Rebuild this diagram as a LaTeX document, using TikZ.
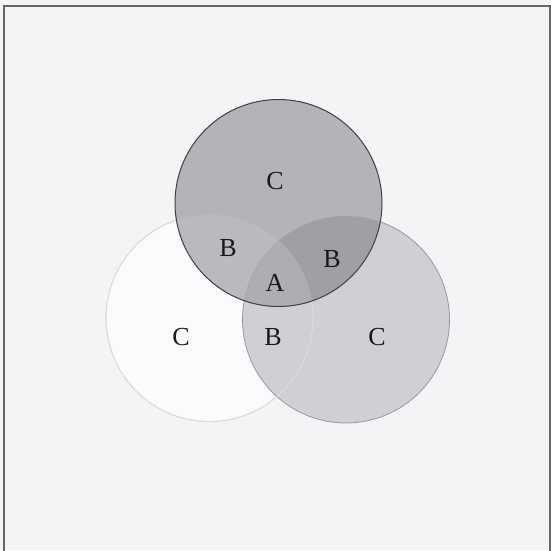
\documentclass[tikz,border=0pt]{standalone}
\usepackage{fontspec}
\setmainfont{Liberation Serif}
\usepackage{xcolor}
\usepackage{tikz}

\definecolor{paper}{HTML}{F4F4F6}
\definecolor{topfill}{HTML}{B4B4B8}
\definecolor{topleft}{HTML}{B9BABF}
\definecolor{topright}{HTML}{A0A0A4}
\definecolor{allthree}{HTML}{ADADB2}
\definecolor{rightfill}{HTML}{CFCFD5}
\definecolor{leftfill}{HTML}{FBFBFD}

\tikzset{
  ring/.style={circle,minimum size=207pt,inner sep=0pt},
  lbl/.style={font=\fontsize{26}{30}\selectfont,text=black!90,inner sep=0pt}
}

\begin{document}
\begin{tikzpicture}[x=1pt,y=-1pt]
  \def\rad{103.5}
  \useasboundingbox (0,0) rectangle (551,550);
  \fill[paper] (0,0) rectangle (551,550);
  \draw[black!60,line width=1.2pt] (4,552) -- (4,6) -- (550,6) -- (550,552);

  % the three sets
  \node[ring] (left) at (209.5,318) {};
  \node[ring] (right) at (346,319.5) {};
  \node[ring] (top) at (278.5,203) {};

  \fill[leftfill] (left.center) circle (\rad);
  \draw[black!22,line width=0.8pt] (left.center) circle (\rad);
  \fill[rightfill] (right.center) circle (\rad);
  \draw[black!40,line width=0.8pt] (right.center) circle (\rad);
  \draw[black!12,line width=0.6pt] (left.center) circle (\rad);
  \fill[topfill] (top.center) circle (\rad);
  \begin{scope}
    \clip (top.center) circle (\rad);
    \fill[topleft] (left.center) circle (\rad);
    \fill[topright] (right.center) circle (\rad);
    \clip (right.center) circle (\rad);
    \fill[allthree] (left.center) circle (\rad);
    \draw[black!30,line width=0.6pt] (left.center) circle (\rad);
    \draw[black!35,line width=0.6pt] (right.center) circle (\rad);
  \end{scope}
  \draw[black!75,line width=1pt] (top.center) circle (\rad);

  % region letters
  \node[lbl] (ctop) at (275,181) {C};
  \node[lbl] (bleft) at (228,248) {B};
  \node[lbl] (bright) at (332,259) {B};
  \node[lbl] (a) at (275,283) {A};
  \node[lbl] (cleft) at (181,337) {C};
  \node[lbl] (bbot) at (273,337) {B};
  \node[lbl] (cright) at (377,337) {C};
\end{tikzpicture}
\end{document}
